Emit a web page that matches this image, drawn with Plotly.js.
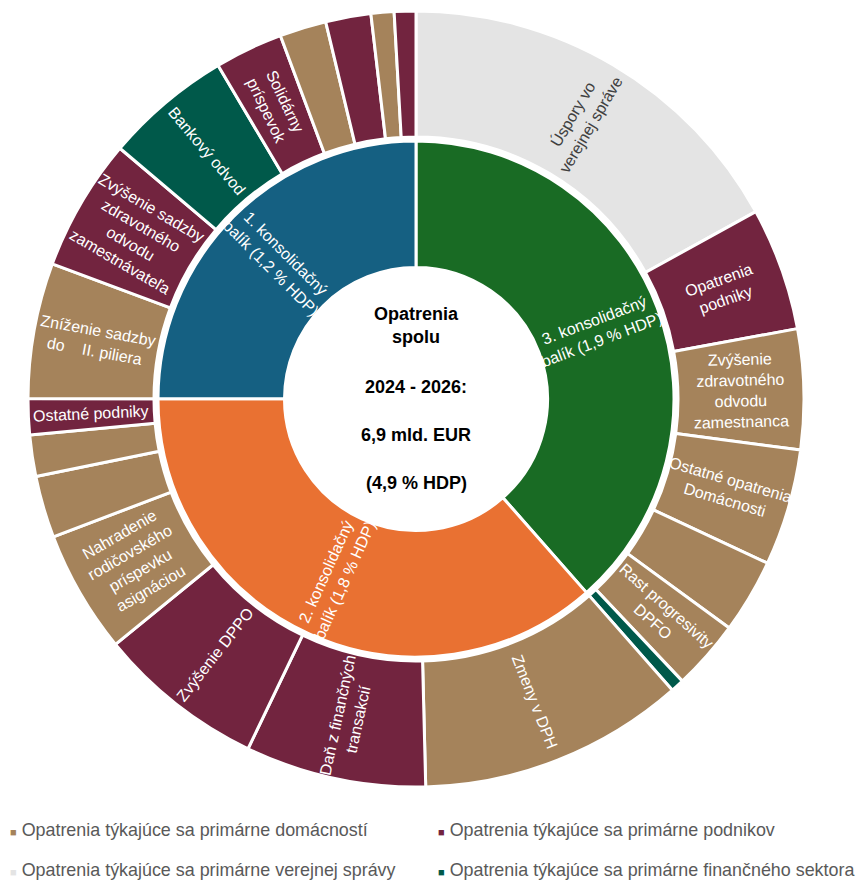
<!DOCTYPE html>
<html>
<head>
<meta charset="utf-8">
<script src="https://cdn.plot.ly/plotly-3.0.1.min.js"></script>
<style>html,body{margin:0;padding:0;background:#fff;}#chart{width:859px;height:883px;}</style>
</head>
<body>
<div id="chart"></div>
<script>
// ---------- DATA ----------
const packageNames = ['3. konsolidačný balík', '2. konsolidačný balík', '1. konsolidačný balík'];
const packageTexts = ['3. konsolidačný<br>balík (1,9 % HDP)', '2. konsolidačný<br>balík (1,8 % HDP)', '1. konsolidačný<br>balík (1,2 % HDP)'];

const categoryNames = [
  'Opatrenia týkajúce sa primárne domácností',
  'Opatrenia týkajúce sa primárne podnikov',
  'Opatrenia týkajúce sa primárne verejnej správy',
  'Opatrenia týkajúce sa primárne finančného sektora'
];

// measures (outer ring), in clockwise order from 12 o'clock
const measureLabels = [
  'Úspory vo verejnej správe', 'Opatrenia podniky', 'Zvýšenie zdravotného odvodu zamestnanca',
  'Ostatné opatrenia Domácnosti', 'Iné opatrenie (domácnosti) 3a', 'Rast progresivity DPFO', 'Iné opatrenie (finančný sektor) 3',
  'Zmeny v DPH', 'Daň z finančných transakcií', 'Zvýšenie DPPO', 'Nahradenie rodičovského príspevku asignáciou',
  'Iné opatrenie (domácnosti) 2a', 'Iné opatrenie (domácnosti) 2b', 'Ostatné podniky',
  'Zníženie sadzby do II. piliera', 'Zvýšenie sadzby zdravotného odvodu zamestnávateľa', 'Bankový odvod',
  'Solidárny príspevok', 'Iné opatrenie (domácnosti) 1a', 'Iné opatrenie (podniky) 1a', 'Iné opatrenie (domácnosti) 1b', 'Iné opatrenie (podniky) 1b'
];
const measureTexts = [
  'Úspory vo<br>verejnej správe', 'Opatrenia<br>podniky', 'Zvýšenie<br>zdravotného<br>odvodu<br>zamestnanca',
  'Ostatné opatrenia<br>Domácnosti', '', 'Rast progresivity<br>DPFO', '',
  'Zmeny v DPH', 'Daň z finančných<br>transakcií', 'Zvýšenie DPPO', 'Nahradenie<br>rodičovského<br>príspevku<br>asignáciou',
  '', '', 'Ostatné podniky',
  'Zníženie sadzby<br>do\u00A0\u00A0\u00A0\u00A0II. piliera', 'Zvýšenie sadzby<br>zdravotného<br>odvodu<br>zamestnávateľa', 'Bankový odvod',
  'Solidárny<br>príspevok', '', '', '', ''
];
// estimated values (mil. EUR)
const measureValues = [
  1171, 353, 345, 335, 213, 201, 38,
  765, 519, 481, 353, 178, 119, 103,
  389, 381, 365, 196, 134, 130, 66, 62
];
const measurePackage = [
  0, 0, 0, 0, 0, 0, 0,
  1, 1, 1, 1, 1, 1, 1,
  2, 2, 2, 2, 2, 2, 2, 2
];
const measureCategory = [
  2, 1, 0, 0, 0, 0, 3,
  0, 1, 1, 0, 0, 0, 1,
  0, 1, 3, 1, 0, 1, 0, 1
];
const centerLines = ['Opatrenia<br>spolu', '2024 - 2026:', '6,9 mld. EUR', '(4,9 % HDP)'];

// ---------- STYLE ----------
const packageColors = ['#196B24', '#E97132', '#156082'];
const categoryColors = ['#A5835B', '#72243F', '#E4E4E4', '#00594A'];
const categoryTextColors = ['#ffffff', '#ffffff', '#404040', '#ffffff'];
const W = 859, H = 883;
const M = {l: 28, r: 55, t: 11, b: 96};
const PW = W - M.l - M.r, PH = H - M.t - M.b;
const CX = M.l + PW / 2, CY = M.t + PH / 2;
const px2x = px => (px - M.l) / PW;
const px2y = py => (M.t + PH - py) / PH;
const FONT = 'Liberation Sans, Arial, sans-serif';

// inner ring values derived from measures
const packageValues = packageNames.map((_, i) =>
  measureValues.reduce((s, v, j) => s + (measurePackage[j] === i ? v : 0), 0));

const rOuter = PW / 2;          // 388
const rOuterHole = 262;
const rInnerOuter = 258;
const rInnerHole = 131.5;
const innerFrac = rInnerOuter / rOuter;

const outer = {
  type: 'pie',
  labels: measureLabels,
  values: measureValues,
  textinfo: 'none',
  hole: rOuterHole / rOuter,
  sort: false,
  direction: 'clockwise',
  rotation: 0,
  marker: {colors: measureCategory.map(c => categoryColors[c]), line: {color: '#ffffff', width: 3}},
  domain: {x: [0, 1], y: [0, 1]},
  hoverinfo: 'label+value',
  showlegend: false
};

const inner = {
  type: 'pie',
  labels: packageNames,
  values: packageValues,
  textinfo: 'none',
  hole: rInnerHole / rInnerOuter,
  sort: false,
  direction: 'clockwise',
  rotation: 0,
  marker: {colors: packageColors, line: {color: '#ffffff', width: 3}},
  domain: {x: [0.5 - innerFrac / 2, 0.5 + innerFrac / 2], y: [0.5 - innerFrac / 2, 0.5 + innerFrac / 2]},
  hoverinfo: 'label+value',
  showlegend: false
};

const annotations = [];

// radial slice labels, placed at each slice's mid-angle (computed from the data)
function ringLabels(values, texts, colors, r) {
  const total = values.reduce((a, b) => a + b, 0);
  let cum = 0;
  values.forEach((v, i) => {
    const theta = (cum + v / 2) / total * 360;
    cum += v;
    if (!texts[i]) return;
    const rad = theta * Math.PI / 180;
    const x = CX + r * Math.sin(rad);
    const y = CY - r * Math.cos(rad);
    const ang = theta <= 180 ? theta - 90 : theta - 270;
    annotations.push({
      text: texts[i], xref: 'paper', yref: 'paper', x: px2x(x), y: px2y(y),
      xanchor: 'center', yanchor: 'middle', showarrow: false, textangle: ang, align: 'center',
      font: {family: FONT, size: 16, color: colors[i]}
    });
  });
}
ringLabels(measureValues, measureTexts, measureCategory.map(c => categoryTextColors[c]), (rOuter + rOuterHole) / 2);
ringLabels(packageValues, packageTexts, packageNames.map(() => '#ffffff'), (rInnerOuter + rInnerHole) / 2);

const centerY = [325, 387, 435, 483];
centerLines.forEach((t, i) => annotations.push({
  text: t, xref: 'paper', yref: 'paper', x: 0.5, y: px2y(centerY[i]),
  xanchor: 'center', yanchor: 'middle', showarrow: false,
  font: {family: FONT, size: 18, color: '#000000', weight: 'bold'}
}));

const legendPos = [[8, 830], [436, 830], [8, 870], [436, 870]];
categoryNames.forEach((name, i) => {
  annotations.push({
    text: '<span style="color:' + categoryColors[i] + ';font-size:11px">■</span> ' + name,
    xref: 'paper', yref: 'paper', x: px2x(legendPos[i][0]), y: px2y(legendPos[i][1]),
    xanchor: 'left', yanchor: 'middle', showarrow: false,
    font: {family: FONT, size: 17.9, color: '#595959'}
  });
});

const layout = {
  width: W, height: H,
  margin: M,
  paper_bgcolor: '#ffffff',
  plot_bgcolor: '#ffffff',
  showlegend: false,
  annotations: annotations
};

Plotly.newPlot('chart', [outer, inner], layout, {displayModeBar: false, staticPlot: true});
</script>
</body>
</html>
